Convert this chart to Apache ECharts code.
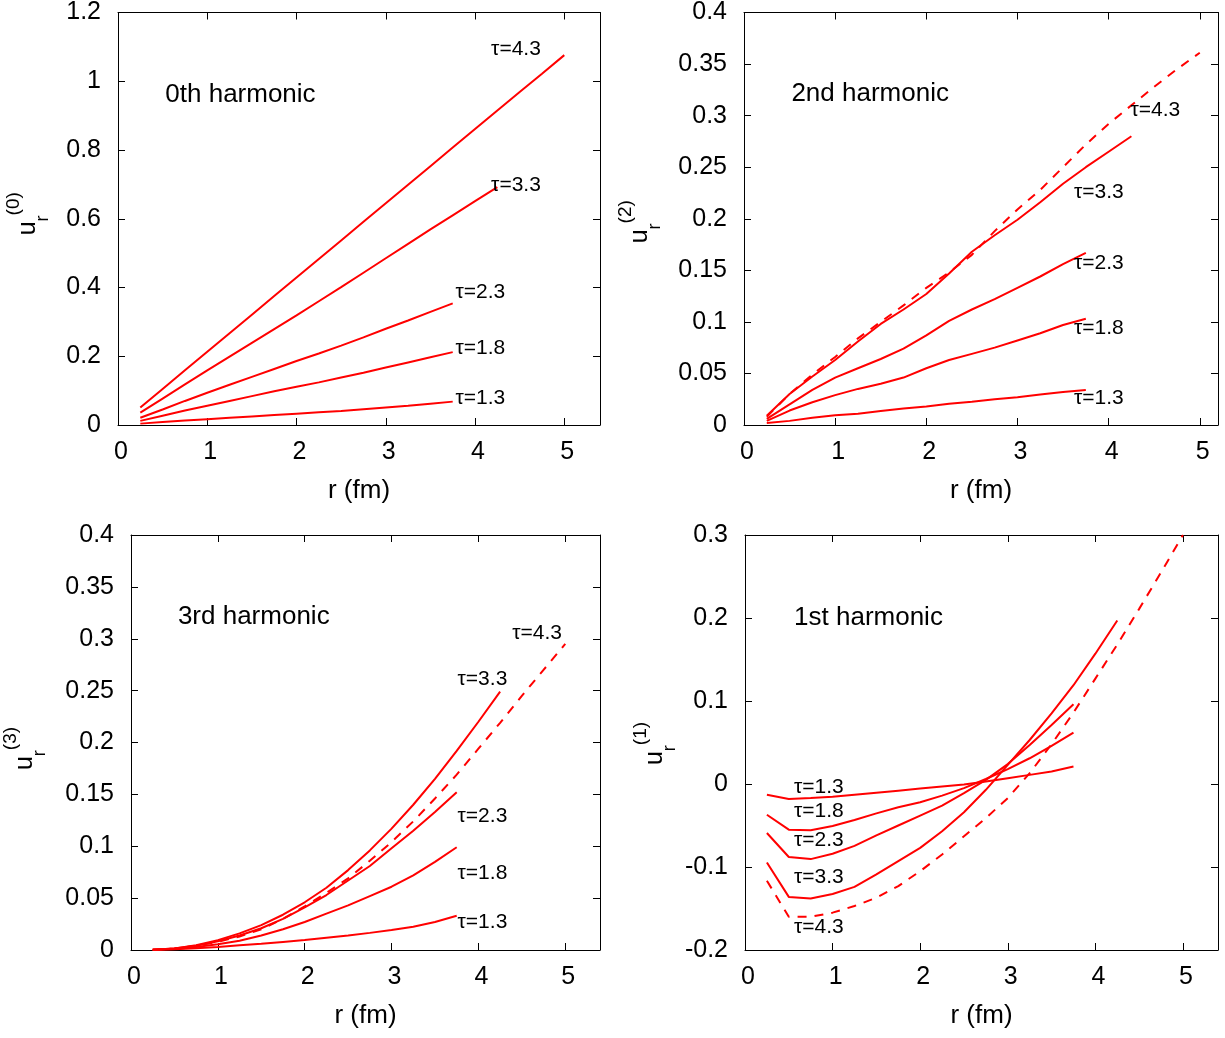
<!DOCTYPE html>
<html>
<head>
<meta charset="utf-8">
<title>Radial flow harmonics</title>
<script src="https://cdn.jsdelivr.net/npm/echarts@6/dist/echarts.min.js"></script>
<style>
  html, body { margin: 0; padding: 0; background: #ffffff; }
  #chart { width: 1225px; height: 1038px; }
</style>
</head>
<body>
<div id="chart"></div>
<script>
// ---- radial grid (fm) shared by every curve ----
const rGrid = [0.25, 0.5, 0.75, 1.0, 1.25, 1.5, 1.75, 2.0, 2.25, 2.5,
               2.75, 3.0, 3.25, 3.5, 3.75, 4.0, 4.25, 4.5, 4.75, 5.0];

const tauLabels = ['τ=1.3', 'τ=1.8', 'τ=2.3', 'τ=3.3', 'τ=4.3'];
const xTicks = [0, 1, 2, 3, 4, 5];

// ---- 0th harmonic u_r^(0) ----
const u0Tau13 = [0.004, 0.009, 0.013, 0.017, 0.021, 0.025, 0.029, 0.033, 0.037, 0.041, 0.046, 0.051, 0.056, 0.062, 0.068];
const u0Tau18 = [0.012, 0.027, 0.042, 0.056, 0.070, 0.084, 0.098, 0.111, 0.124, 0.138, 0.152, 0.167, 0.182, 0.197, 0.212];
const u0Tau23 = [0.021, 0.045, 0.070, 0.094, 0.117, 0.140, 0.163, 0.186, 0.208, 0.231, 0.255, 0.280, 0.304, 0.329, 0.354];
const u0Tau33 = [0.036, 0.077, 0.118, 0.159, 0.199, 0.239, 0.279, 0.319, 0.360, 0.401, 0.443, 0.485, 0.527, 0.569, 0.610, 0.651, 0.692];
const u0Tau43 = [0.051, 0.105, 0.159, 0.213, 0.267, 0.321, 0.375, 0.429, 0.483, 0.537, 0.591, 0.645, 0.699, 0.753, 0.807, 0.861, 0.915, 0.969, 1.022, 1.076];

// ---- 2nd harmonic u_r^(2) ----
const u2Tau13 = [0.002, 0.004, 0.007, 0.0095, 0.011, 0.0135, 0.016, 0.018, 0.0205, 0.0225, 0.025, 0.027, 0.0295, 0.032, 0.034];
const u2Tau18 = [0.004, 0.014, 0.022, 0.029, 0.035, 0.040, 0.046, 0.055, 0.063, 0.069, 0.075, 0.082, 0.089, 0.097, 0.103];
const u2Tau23 = [0.006, 0.020, 0.034, 0.046, 0.055, 0.064, 0.074, 0.087, 0.101, 0.112, 0.122, 0.133, 0.144, 0.156, 0.167];
const u2Tau33 = [0.009, 0.030, 0.047, 0.063, 0.081, 0.098, 0.112, 0.127, 0.147, 0.168, 0.184, 0.199, 0.216, 0.234, 0.250, 0.265, 0.280];
const u2Tau43 = [0.008, 0.030, 0.049, 0.066, 0.084, 0.100, 0.116, 0.133, 0.148, 0.165, 0.188, 0.209, 0.228, 0.250, 0.272, 0.292, 0.310, 0.328, 0.345, 0.361];

// ---- 3rd harmonic u_r^(3) ----
const u3Tau13 = [0.0002, 0.0008, 0.0017, 0.003, 0.0045, 0.006, 0.0078, 0.0096, 0.0118, 0.014, 0.0165, 0.0192, 0.0225, 0.027, 0.033];
const u3Tau18 = [0.0003, 0.001, 0.003, 0.0055, 0.009, 0.014, 0.020, 0.027, 0.035, 0.043, 0.052, 0.061, 0.072, 0.085, 0.099];
const u3Tau23 = [0.0003, 0.0015, 0.004, 0.0085, 0.014, 0.021, 0.030, 0.041, 0.053, 0.067, 0.081, 0.098, 0.115, 0.133, 0.152];
const u3Tau33 = [0.0003, 0.0015, 0.0045, 0.0095, 0.016, 0.024, 0.034, 0.046, 0.060, 0.077, 0.096, 0.117, 0.140, 0.165, 0.192, 0.220, 0.249];
const u3Tau43 = [0.0003, 0.0015, 0.004, 0.008, 0.013, 0.020, 0.030, 0.042, 0.055, 0.069, 0.086, 0.104, 0.124, 0.146, 0.169, 0.194, 0.219, 0.245, 0.270, 0.295];

// ---- 1st harmonic u_r^(1) ----
const u1Tau13 = [-0.013, -0.018, -0.017, -0.0155, -0.013, -0.0105, -0.008, -0.0055, -0.003, -0.0005, 0.003, 0.007, 0.011, 0.015, 0.021];
const u1Tau18 = [-0.037, -0.055, -0.0556, -0.0505, -0.0434, -0.0354, -0.028, -0.022, -0.014, -0.005, 0.006, 0.018, 0.031, 0.046, 0.062];
const u1Tau23 = [-0.059, -0.088, -0.0905, -0.084, -0.0745, -0.062, -0.050, -0.038, -0.026, -0.011, 0.005, 0.024, 0.047, 0.071, 0.096];
const u1Tau33 = [-0.0945, -0.136, -0.138, -0.1325, -0.124, -0.109, -0.093, -0.077, -0.057, -0.034, -0.007, 0.023, 0.053, 0.085, 0.119, 0.157, 0.197];
const u1Tau43 = [-0.1165, -0.160, -0.160, -0.155, -0.147, -0.137, -0.123, -0.105, -0.085, -0.063, -0.041, -0.017, 0.013, 0.048, 0.086, 0.127, 0.168, 0.211, 0.255, 0.300];

// ---- panel layout (pixels) and annotation anchors (data coordinates) ----
const FONT = '"Liberation Sans", Arial, Helvetica, sans-serif';
const RED = '#ff0000';

const panels = [
  {
    title: '0th harmonic', sup: '(0)',
    grid: { left: 118, top: 10, width: 482, height: 415 },
    xMax: 5.4, yMin: 0, yMax: 1.2, yStep: 0.2, yNameGap: 66, yNamePad: [0, 0, 0, 10],
    curves: [u0Tau13, u0Tau18, u0Tau23, u0Tau33, u0Tau43],
    dashed: [false, false, false, false, false],
    titleAt: [0.53, 0.96],
    labelAt: [[3.78, 0.078], [3.78, 0.224], [3.78, 0.386], [4.18, 0.698], [4.18, 1.092]]
  },
  {
    title: '2nd harmonic', sup: '(2)',
    grid: { left: 744, top: 10, width: 474, height: 415 },
    xMax: 5.2, yMin: 0, yMax: 0.4, yStep: 0.05, yNameGap: 80, yNamePad: [0, 6, 0, 0],
    curves: [u2Tau13, u2Tau18, u2Tau23, u2Tau33, u2Tau43],
    dashed: [false, false, false, false, true],
    titleAt: [0.52, 0.321],
    labelAt: [[3.62, 0.0257], [3.62, 0.094], [3.62, 0.1565], [3.62, 0.2255], [4.24, 0.305]]
  },
  {
    title: '3rd harmonic', sup: '(3)',
    grid: { left: 127, top: 535, width: 473, height: 415 },
    xMax: 5.4, yMin: 0, yMax: 0.4, yStep: 0.05, yNameGap: 82, yNamePad: [0, 12, 0, 0],
    curves: [u3Tau13, u3Tau18, u3Tau23, u3Tau33, u3Tau43],
    dashed: [false, false, false, false, true],
    titleAt: [0.54, 0.321],
    labelAt: [[3.76, 0.0266], [3.76, 0.074], [3.76, 0.129], [3.76, 0.261], [4.39, 0.305]]
  },
  {
    title: '1st harmonic', sup: '(1)',
    grid: { left: 745, top: 535, width: 473, height: 415 },
    xMax: 5.4, yMin: -0.2, yMax: 0.3, yStep: 0.1, yNameGap: 66, yNamePad: [0, 2, 0, 0],
    curves: [u1Tau13, u1Tau18, u1Tau23, u1Tau33, u1Tau43],
    dashed: [false, false, false, false, true],
    titleAt: [0.56, 0.200],
    labelAt: [[0.56, -0.0044], [0.56, -0.0325], [0.56, -0.0674], [0.56, -0.1128], [0.56, -0.173]]
  }
];

// frame lines stay on the grid edges (never jump to the zero line)
const axisLineStyle = { show: true, onZero: false, lineStyle: { color: '#000', width: 1 } };
const tickStyle = { show: true, inside: true, length: 7, lineStyle: { color: '#000', width: 1 } };

const grids = [], xAxes = [], yAxes = [], series = [];

panels.forEach((p, i) => {
  grids.push(Object.assign({ containLabel: false }, p.grid));

  // bottom x axis with labels
  xAxes.push({
    type: 'value', gridIndex: i, position: 'bottom',
    min: 0, max: p.xMax, interval: 1,
    name: 'r (fm)', nameLocation: 'middle', nameGap: 53,
    nameTextStyle: { fontFamily: FONT, fontSize: 26, color: '#000', lineHeight: 26 },
    axisLine: axisLineStyle, axisTick: tickStyle, splitLine: { show: false },
    axisLabel: {
      show: true, margin: 15, fontFamily: FONT, fontSize: 25, color: '#000',
      showMaxLabel: false, padding: [0, 0, 0, 6],
      formatter: v => (xTicks.indexOf(v) >= 0 ? String(v) : '')
    }
  });
  // left y axis with labels and the u_r^(k) title
  yAxes.push({
    type: 'value', gridIndex: i, position: 'left',
    min: p.yMin, max: p.yMax, interval: p.yStep,
    name: '{u|u}{r|r}{s|' + p.sup + '}',
    nameLocation: 'middle', nameRotate: 90, nameGap: p.yNameGap,
    nameTextStyle: {
      fontFamily: FONT, color: '#000', padding: p.yNamePad,
      rich: {
        u: { fontFamily: FONT, fontSize: 25, lineHeight: 48, color: '#000' },
        r: { fontFamily: FONT, fontSize: 18, lineHeight: 27, verticalAlign: 'bottom', color: '#000' },
        s: { fontFamily: FONT, fontSize: 19, lineHeight: 15, verticalAlign: 'top', color: '#000' }
      }
    },
    axisLine: axisLineStyle, axisTick: tickStyle, splitLine: { show: false },
    axisLabel: { show: true, margin: 17, fontFamily: FONT, fontSize: 25, color: '#000' }
  });

  p.curves.forEach((vals, k) => {
    series.push({
      type: 'line', name: tauLabels[k],
      xAxisIndex: i, yAxisIndex: i,
      data: vals.map((v, j) => [rGrid[j], v]),
      showSymbol: false, symbol: 'none', smooth: false, silent: true,
      lineStyle: { color: RED, width: 2, type: p.dashed[k] ? [9, 8] : 'solid' },
      z: 3
    });
  });
});

// mirrored frame axes (top and right) carrying inward ticks only
panels.forEach((p, i) => {
  xAxes.push({
    type: 'value', gridIndex: i, position: 'top',
    min: 0, max: p.xMax, interval: 1,
    axisLine: axisLineStyle, axisTick: tickStyle,
    axisLabel: { show: false }, splitLine: { show: false }
  });
  yAxes.push({
    type: 'value', gridIndex: i, position: 'right',
    min: p.yMin, max: p.yMax, interval: p.yStep,
    axisLine: axisLineStyle, axisTick: tickStyle,
    axisLabel: { show: false }, splitLine: { show: false }
  });
});

const chart = echarts.init(document.getElementById('chart'), null, { renderer: 'canvas' });
chart.setOption({
  animation: false,
  backgroundColor: '#ffffff',
  grid: grids,
  xAxis: xAxes,
  yAxis: yAxes,
  series: series
});

// panel titles and τ labels placed through each panel's own scales
const texts = [];
panels.forEach((p, i) => {
  const finder = { xAxisIndex: i, yAxisIndex: i };
  const t = chart.convertToPixel(finder, p.titleAt);
  texts.push({
    type: 'text', x: t[0], y: t[1], silent: true, z: 10,
    style: { text: p.title, fontFamily: FONT, fontSize: 26, fill: '#000', align: 'left', verticalAlign: 'middle' }
  });
  p.labelAt.forEach((pos, k) => {
    const q = chart.convertToPixel(finder, pos);
    texts.push({
      type: 'text', x: q[0], y: q[1], silent: true, z: 10,
      style: { text: tauLabels[k], fontFamily: FONT, fontSize: 21, fill: '#000', align: 'left', verticalAlign: 'middle' }
    });
  });
});
chart.setOption({ graphic: texts });
</script>
</body>
</html>
